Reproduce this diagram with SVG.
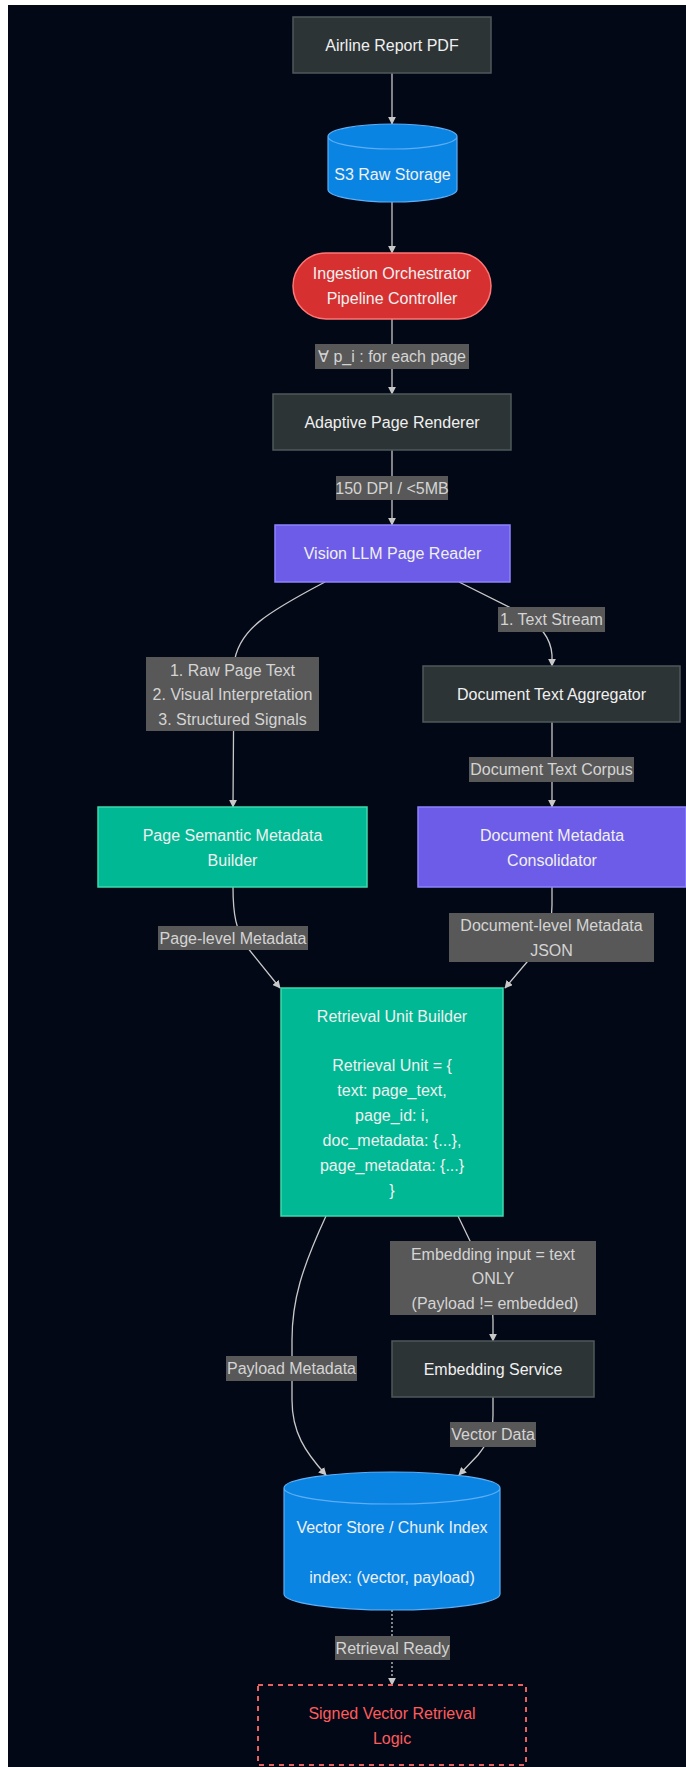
<svg xmlns="http://www.w3.org/2000/svg" width="686" height="1767" viewBox="0 0 686 1767">
<style>
text{font-family:"Liberation Sans",Arial,sans-serif;font-size:16px;text-anchor:middle;dominant-baseline:central}
.nt{fill:#f0f0f0}
.lt{fill:#d4d4d4}
.dark{fill:#2d3436;stroke:#4f585a;stroke-width:1.5}
.red{fill:#d63031;stroke:#ff7675;stroke-width:1.5}
.pur{fill:#6c5ce7;stroke:#8e82ff;stroke-width:1.5}
.teal{fill:#00b894;stroke:#3ed8ae;stroke-width:1.5}
.cyl{fill:#0984e3;stroke:#5eaef5;stroke-width:1.2}
.lbl{fill:#585858}
.e{fill:none;stroke:#c8c8c8;stroke-width:1.3}
.dot{stroke-dasharray:2,2}
</style>
<defs>
<marker id="ah" viewBox="0 0 10 10" refX="9" refY="5" markerWidth="8" markerHeight="8" orient="auto" markerUnits="userSpaceOnUse">
<path d="M0,0 L10,5 L0,10 z" fill="#c8c8c8"/>
</marker>
</defs>
<rect x="8" y="5" width="678" height="1762" fill="#030817"/>
<g id="connectors">
<path class="e" d="M392,73 L392,124" marker-end="url(#ah)"/>
<path class="e" d="M392,202 L392,253" marker-end="url(#ah)"/>
<path class="e" d="M392,319 L392,394" marker-end="url(#ah)"/>
<path class="e" d="M392,450 L392,525" marker-end="url(#ah)"/>
<path class="e" d="M325,582 C268,612 237,630 234,665 L233,807" marker-end="url(#ah)"/>
<path class="e" d="M459,582 L515,610 C543,625 551,640 552,655 L552,666" marker-end="url(#ah)"/>
<path class="e" d="M552,722 L552,807" marker-end="url(#ah)"/>
<path class="e" d="M233,887 C233,915 236,930 247,947 L280,988" marker-end="url(#ah)"/>
<path class="e" d="M552,887 L552,905 C552,935 540,950 527,962 L505,988" marker-end="url(#ah)"/>
<path class="e" d="M326,1216 C302,1268 292,1300 292,1340 L292,1400 C292,1432 305,1452 326,1475" marker-end="url(#ah)"/>
<path class="e" d="M458,1216 L472,1245 C488,1275 493,1300 493,1320 L493,1341" marker-end="url(#ah)"/>
<path class="e" d="M493,1397 L493,1415 C493,1435 486,1445 478,1455 L459,1475" marker-end="url(#ah)"/>
<path class="e dot" d="M392,1610 L392,1685" marker-end="url(#ah)"/>
<g id="edge-labels">
<rect class="lbl" x="315" y="344" width="154" height="25"/>
<text class="lt" x="392" y="356.5">∀ p_i : for each page</text>
<rect class="lbl" x="336" y="476" width="112" height="24"/>
<text class="lt" x="392" y="488">150 DPI / &lt;5MB</text>
<rect class="lbl" x="498" y="607" width="107" height="25"/>
<text class="lt" x="551.5" y="619.5">1. Text Stream</text>
<rect class="lbl" x="146" y="657" width="173" height="74"/>
<text class="lt" x="232.5" y="670">1. Raw Page Text</text>
<text class="lt" x="232.5" y="694.5">2. Visual Interpretation</text>
<text class="lt" x="232.5" y="719">3. Structured Signals</text>
<rect class="lbl" x="469" y="757" width="165" height="25"/>
<text class="lt" x="551.5" y="769.5">Document Text Corpus</text>
<rect class="lbl" x="158" y="926" width="150" height="24"/>
<text class="lt" x="233" y="938">Page-level Metadata</text>
<rect class="lbl" x="449" y="913" width="205" height="49"/>
<text class="lt" x="551.5" y="925">Document-level Metadata</text>
<text class="lt" x="551.5" y="950">JSON</text>
<rect class="lbl" x="390" y="1241" width="206" height="74"/>
<text class="lt" x="493" y="1254">Embedding input = text</text>
<text class="lt" x="493" y="1278.5">ONLY</text>
<text class="lt" x="495" y="1303"> (Payload != embedded)</text>
<rect class="lbl" x="226" y="1356" width="131" height="25"/>
<text class="lt" x="291.5" y="1368.5">Payload Metadata</text>
<rect class="lbl" x="450" y="1422" width="86" height="25"/>
<text class="lt" x="493" y="1434.5">Vector Data</text>
<rect class="lbl" x="335" y="1636" width="115" height="24"/>
<text class="lt" x="392.5" y="1648">Retrieval Ready</text>
</g>
</g>
<g id="airline">
<rect class="dark" x="293" y="17" width="198" height="56"/>
<text class="nt" x="392" y="45">Airline Report PDF</text>
</g>
<g id="s3">
<path class="cyl" d="M328,136.5 a64.5,12.5 0 0,0 129,0 a64.5,12.5 0 0,0 -129,0 l0,53 a64.5,12.5 0 0,0 129,0 l0,-53"/>
<text class="nt" x="392.5" y="174">S3 Raw Storage</text>
</g>
<g id="ingestion">
<rect class="red" x="293" y="253" width="198" height="66" rx="33" ry="33"/>
<text class="nt" x="392" y="273">Ingestion Orchestrator</text>
<text class="nt" x="392" y="298">Pipeline Controller</text>
</g>
<g id="renderer">
<rect class="dark" x="273" y="394" width="238" height="56"/>
<text class="nt" x="392" y="422">Adaptive Page Renderer</text>
</g>
<g id="vision">
<rect class="pur" x="275" y="525" width="235" height="57"/>
<text class="nt" x="392.5" y="553.5">Vision LLM Page Reader</text>
</g>
<g id="aggregator">
<rect class="dark" x="423" y="666" width="257" height="56"/>
<text class="nt" x="551.5" y="694">Document Text Aggregator</text>
</g>
<g id="page-meta">
<rect class="teal" x="98" y="807" width="269" height="80"/>
<text class="nt" x="232.5" y="835">Page Semantic Metadata</text>
<text class="nt" x="232.5" y="860">Builder</text>
</g>
<g id="doc-meta">
<rect class="pur" x="418" y="807" width="268" height="80"/>
<text class="nt" x="552" y="835">Document Metadata</text>
<text class="nt" x="552" y="860">Consolidator</text>
</g>
<g id="retrieval-unit">
<rect class="teal" x="281" y="988" width="222" height="228"/>
<text class="nt" x="392" y="1016">Retrieval Unit Builder</text>
<text class="nt" x="392" y="1065">Retrieval Unit = {</text>
<text class="nt" x="392" y="1090">text: page_text,</text>
<text class="nt" x="392" y="1115">page_id: i,</text>
<text class="nt" x="392" y="1140">doc_metadata: {...},</text>
<text class="nt" x="392" y="1165">page_metadata: {...}</text>
<text class="nt" x="392" y="1190">}</text>
</g>
<g id="embedding">
<rect class="dark" x="392" y="1341" width="202" height="56"/>
<text class="nt" x="493" y="1369">Embedding Service</text>
</g>
<g id="vector-store">
<path class="cyl" d="M284,1488 a108,16 0 0,0 216,0 a108,16 0 0,0 -216,0 l0,106 a108,16 0 0,0 216,0 l0,-106"/>
<text class="nt" x="392" y="1527">Vector Store / Chunk Index</text>
<text class="nt" x="392" y="1577">index: (vector, payload)</text>
</g>
<g id="signed">
<rect x="258" y="1685" width="268" height="80" fill="none" stroke="#e86161" stroke-width="2" stroke-dasharray="5,5"/>
<text x="392" y="1713" fill="#ff5c5c">Signed Vector Retrieval</text>
<text x="392" y="1738" fill="#ff5c5c">Logic</text>
</g>
</svg>
